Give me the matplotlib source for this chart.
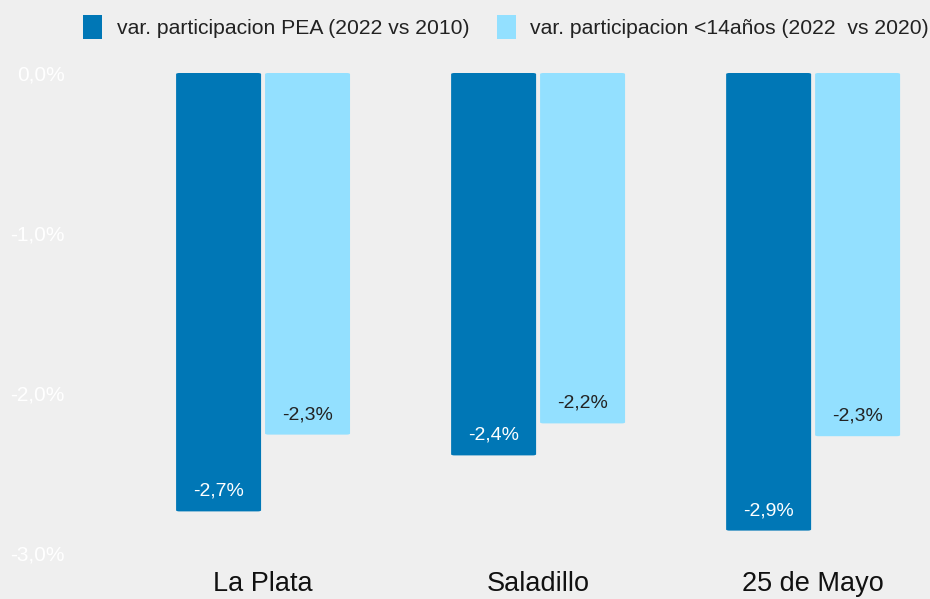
import matplotlib
matplotlib.use("Agg")
import matplotlib.pyplot as plt
import numpy as np
from matplotlib.ticker import FuncFormatter
from matplotlib.patches import FancyBboxPatch, Patch

categories = ["La Plata", "Saladillo", "25 de Mayo"]
series_names = ["var. participacion PEA (2022 vs 2010)",
                "var. participacion <14años (2022  vs 2020)"]
pea = [-2.74, -2.39, -2.86]
menores = [-2.26, -2.19, -2.27]
yticks = [0, -1, -2, -3]

bg = "#efefef"
dark = "#0077b6"
light = "#93e0ff"

plt.rcParams['font.family'] = ['Liberation Sans', 'DejaVu Sans']

fig = plt.figure(figsize=(9.3, 5.99), dpi=100, facecolor=bg)
ax = fig.add_axes([70/930, (599-553)/599, 860/930, (553-73)/599], facecolor=bg)

x = np.arange(len(categories))
w = 0.309
gap = 0.0145
b1 = ax.bar(x - w/2 - gap/2, pea, w, color=dark)
b2 = ax.bar(x + w/2 + gap/2, menores, w, color=light)

# rounded corners
for bars in (b1, b2):
    for rect in bars:
        rect.set_visible(False)
        xx, yy = rect.get_x(), rect.get_y()
        ww, hh = rect.get_width(), rect.get_height()
        y0 = min(yy, yy + hh)
        p = FancyBboxPatch((xx, y0), ww, abs(hh),
                           boxstyle="round,pad=0,rounding_size=0.012",
                           mutation_aspect=0.58, facecolor=rect.get_facecolor(),
                           edgecolor="none")
        ax.add_patch(p)

for rect, v in zip(b1, pea):
    ax.text(rect.get_x() + rect.get_width()/2, v + 0.125, f"{v:.1f}%".replace(".", ","),
            ha="center", va="center", color="white", fontsize=14)
for rect, v in zip(b2, menores):
    ax.text(rect.get_x() + rect.get_width()/2, v + 0.125, f"{v:.1f}%".replace(".", ","),
            ha="center", va="center", color="#222222", fontsize=14)

ax.set_xlim(-0.702, 2.425)
ax.set_ylim(-3, 0)
ax.set_yticks(yticks)
ax.yaxis.set_major_formatter(FuncFormatter(lambda v, p: f"{v:.1f}%".replace(".", ",")))
ax.tick_params(axis="y", colors="white", labelsize=15, length=0, pad=4)
ax.set_xticks(x)
ax.set_xticklabels(categories)
ax.tick_params(axis="x", labelsize=19.5, length=0, pad=13, colors="#111111")
for s in ax.spines.values():
    s.set_visible(False)

handles = [Patch(facecolor=dark, edgecolor="none", label=series_names[0]),
           Patch(facecolor=light, edgecolor="none", label=series_names[1])]
fig.legend(handles=handles, loc="center left", bbox_to_anchor=(64/930, 1 - 27/599), ncol=2,
           frameon=False, fontsize=15.2, handlelength=0.9, handleheight=1.3,
           handletextpad=0.7, columnspacing=1.3, labelcolor="#222222")

fig.savefig("out.png", dpi=100, facecolor=bg)
